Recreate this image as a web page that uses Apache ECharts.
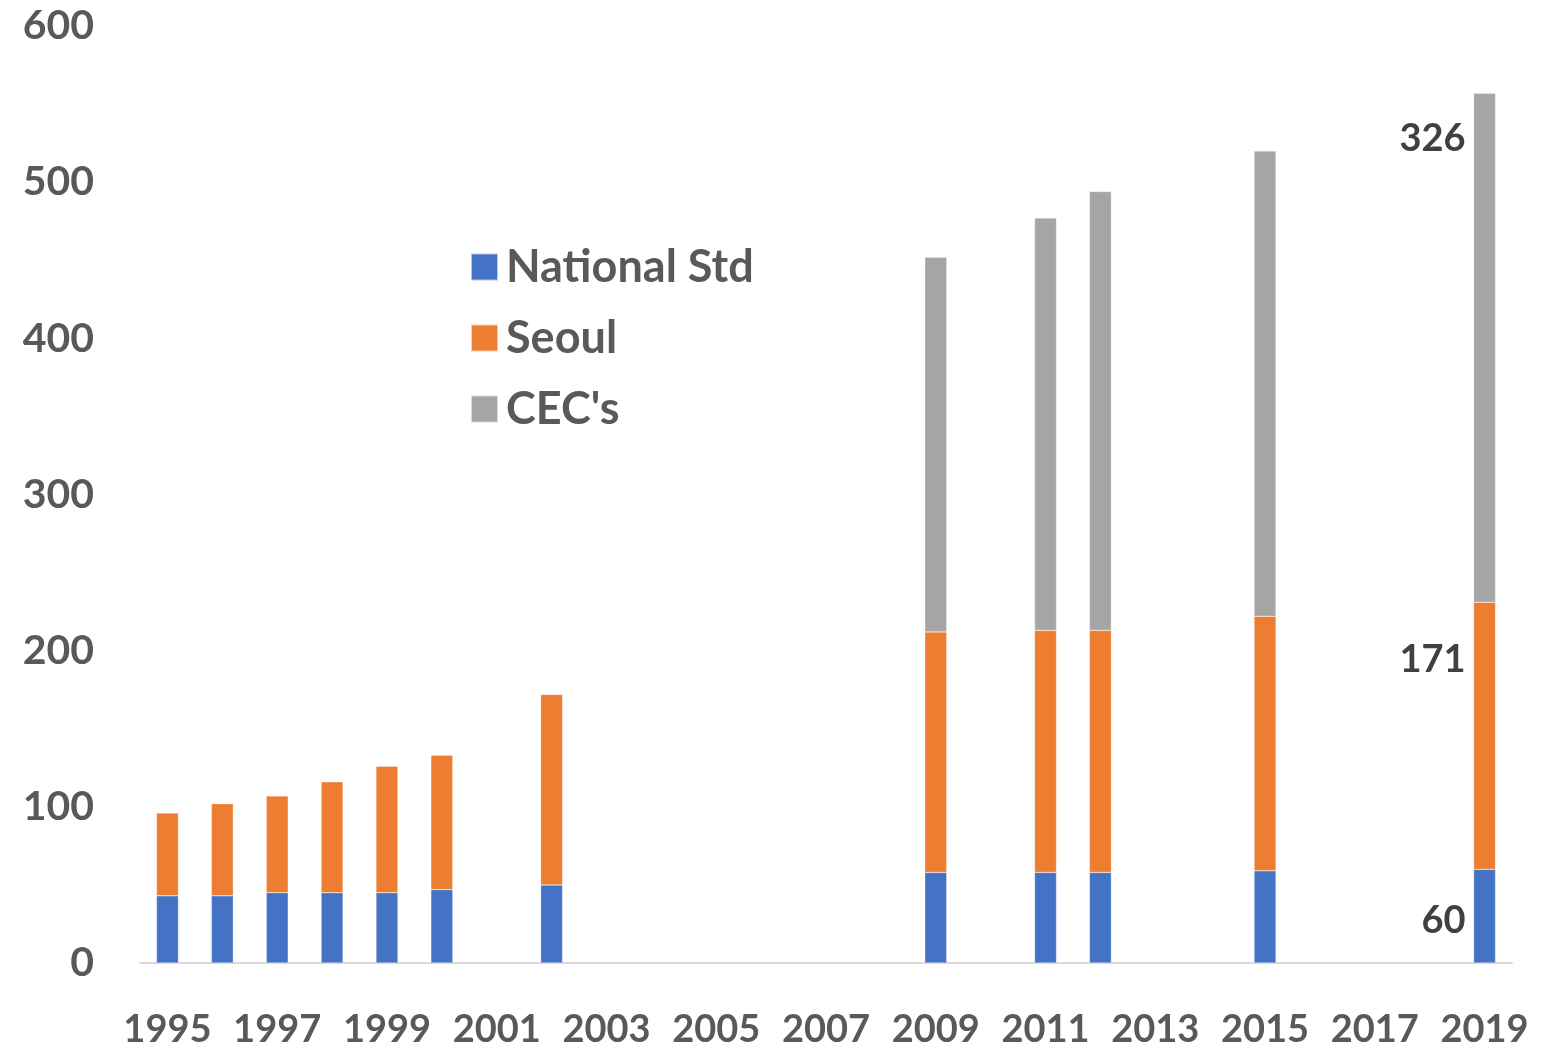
<!DOCTYPE html>
<html>
<head>
<meta charset="utf-8">
<script src="https://cdn.jsdelivr.net/npm/echarts@6/dist/echarts.min.js"></script>
<style>
  html, body { margin: 0; padding: 0; background: #fff; }
  #chart { width: 1557px; height: 1050px; }
</style>
</head>
<body>
<div id="chart"></div>
<script>
// Years on the category axis
const years = [
  '1995','1996','1997','1998','1999','2000','2001','2002','2003','2004',
  '2005','2006','2007','2008','2009','2010','2011','2012','2013','2014',
  '2015','2016','2017','2018','2019'
];

// Stacked segment values per year (null = no data)
const nationalStd = [43, 43, 45, 45, 45, 47, null, 50, null, null,
  null, null, null, null, 58, null, 58, 58, null, null,
  59, null, null, null, 60];
const seoul = [53, 59, 62, 71, 81, 86, null, 122, null, null,
  null, null, null, null, 154, null, 155, 155, null, null,
  163, null, null, null, 171];
const cecs = [null, null, null, null, null, null, null, null, null, null,
  null, null, null, null, 240, null, 264, 281, null, null,
  298, null, null, null, 326];

const yTicks = [0, 100, 200, 300, 400, 500, 600];

const FONT = 'Lato, "Open Sans", sans-serif';
const lastIdx = years.length - 1;

// Only the final year carries value labels, set beside the bar on its left
function withLastLabel(values, pos) {
  return values.map((v, i) => {
    if (i !== lastIdx) return v;
    return {
      value: v,
      label: {
        show: true,
        position: pos,
        align: 'right',
        verticalAlign: 'middle',
        color: '#404040',
        fontFamily: FONT,
        fontWeight: 'bold',
        fontSize: 38,
        formatter: '{c}'
      }
    };
  });
}

const chart = echarts.init(document.getElementById('chart'), null, { renderer: 'canvas' });

const barCommon = {
  type: 'bar',
  stack: 'total',
  barWidth: '40%',
  itemStyle: { borderColor: 'rgba(255,255,255,0.6)', borderWidth: 0.5 }
};

chart.setOption({
  animation: false,
  backgroundColor: '#ffffff',
  grid: { left: 140, right: 45, top: 26, bottom: 87, containLabel: false },
  legend: {
    orient: 'vertical',
    left: 465,
    top: 238,
    itemWidth: 27,
    itemHeight: 27,
    itemGap: 23,
    icon: 'rect',
    textStyle: {
      color: '#595959',
      fontFamily: FONT,
      fontWeight: 'bold',
      fontSize: 45,
      lineHeight: 48,
      padding: [0, 0, 0, 3]
    },
    data: ['National Std', 'Seoul', "CEC's"]
  },
  xAxis: {
    type: 'category',
    data: years,
    axisTick: { show: false },
    axisLine: { lineStyle: { color: '#D9D9D9', width: 2 } },
    axisLabel: {
      interval: 1,
      margin: 48,
      color: '#595959',
      fontFamily: FONT,
      fontWeight: 'bold',
      fontSize: 38
    }
  },
  yAxis: {
    type: 'value',
    min: yTicks[0],
    max: yTicks[yTicks.length - 1],
    interval: 100,
    splitLine: { show: false },
    axisLine: { show: false },
    axisTick: { show: false },
    axisLabel: {
      margin: 46,
      color: '#595959',
      fontFamily: FONT,
      fontWeight: 'bold',
      fontSize: 41,
      align: 'right',
      padding: [6, 0, 0, 0]
    }
  },
  series: [
    Object.assign({}, barCommon, {
      name: 'National Std',
      itemStyle: Object.assign({}, barCommon.itemStyle, { color: '#4472C4' }),
      data: withLastLabel(nationalStd, [-8, 51])
    }),
    Object.assign({}, barCommon, {
      name: 'Seoul',
      itemStyle: Object.assign({}, barCommon.itemStyle, { color: '#ED7D31' }),
      data: withLastLabel(seoul, [-8, 57])
    }),
    Object.assign({}, barCommon, {
      name: "CEC's",
      itemStyle: Object.assign({}, barCommon.itemStyle, { color: '#A5A5A5' }),
      data: withLastLabel(cecs, [-8, 46])
    })
  ]
});
</script>
</body>
</html>
